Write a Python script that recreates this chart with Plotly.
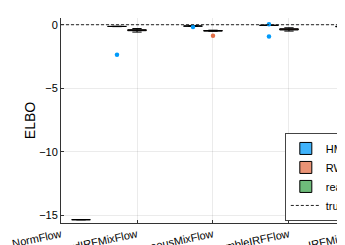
import plotly.graph_objects as go

categories = ["NormFlow", "BackwardIRFMixFlow", "HomogeneousMixFlow",
              "EnsembleIRFFlow", "IRFMixFlow"]

# HMC samples per category (NormFlow has none)
hmc_backward = [-0.12, -0.13, -0.13, -0.14, -0.14, -0.15, -0.13, -0.12, -0.14, -2.37]
hmc_homogeneous = [-0.08, -0.10, -0.11, -0.12, -0.10, -0.09, -0.11, -0.10, -0.17]
hmc_ensemble = [-0.03, -0.05, -0.06, -0.04, -0.05, -0.04, -0.06, 0.03, -0.92]
hmc_irfmix = [-0.12, -0.13, -0.14, -0.13, -0.12, -0.14, -0.13, -0.23, -2.34]

# RWMH samples per category
rwmh_backward = [-0.30, -0.38, -0.40, -0.43, -0.44, -0.46, -0.48, -0.58]
rwmh_homogeneous = [-0.43, -0.45, -0.46, -0.47, -0.48, -0.49, -0.51, -0.87]
rwmh_ensemble = [-0.24, -0.31, -0.33, -0.36, -0.39, -0.42, -0.50]
rwmh_irfmix = [-0.32, -0.40, -0.42, -0.44, -0.46, -0.48, -0.56]

# real_data samples (NormFlow only)
real_normflow = [-15.35, -15.35, -15.35, -15.35]

true_values = [0, 0, 0, 0, 0]

yticks = [0, -5, -10, -15]
ytick_labels = ["0", "−5", "−10", "−15"]


def expand(cat_lists):
    xs, ys = [], []
    for cat, vals in cat_lists:
        xs += [cat] * len(vals)
        ys += vals
    return xs, ys


hmc_x, hmc_y = expand([(categories[1], hmc_backward), (categories[2], hmc_homogeneous),
                       (categories[3], hmc_ensemble), (categories[4], hmc_irfmix)])
rwmh_x, rwmh_y = expand([(categories[1], rwmh_backward), (categories[2], rwmh_homogeneous),
                         (categories[3], rwmh_ensemble), (categories[4], rwmh_irfmix)])
real_x, real_y = expand([(categories[0], real_normflow)])

series = [
    ("HMC", hmc_x, hmc_y, "#009AFA", "rgba(0,154,250,0.75)"),
    ("RWMH", rwmh_x, rwmh_y, "#E36F47", "rgba(227,111,71,0.75)"),
    ("real_data", real_x, real_y, "#3EA44E", "rgba(62,164,78,0.75)"),
]

fig = go.Figure()
for name, xs, ys, col, fill in series:
    fig.add_trace(go.Box(
        x=xs, y=ys, name=name,
        fillcolor=fill,
        line=dict(color="black", width=1),
        marker=dict(color=col, size=4.5, line=dict(width=0)),
        boxpoints="outliers",
        whiskerwidth=0.5,
    ))

fig.add_trace(go.Scatter(
    x=categories, y=true_values, name="true", mode="lines",
    line=dict(color="#222222", width=1, dash="3px,2px"),
))

axis_common = dict(
    showgrid=True, gridcolor="rgba(0,0,0,0.08)", gridwidth=1,
    showline=True, linecolor="#333333", linewidth=1,
    ticks="inside", ticklen=3, tickcolor="#333333",
    tickfont=dict(family="Liberation Sans, Arial, sans-serif", size=11, color="black"),
    zeroline=False, automargin=False,
)

# page body adds an 8px offset; figure is wider than the window so the
# right part (as in the reference) falls outside the visible area
fig.update_layout(
    width=400, height=237,
    margin=dict(l=53, r=0, t=10, b=22, autoexpand=False),
    paper_bgcolor="white", plot_bgcolor="white",
    boxmode="group", boxgap=0.21, boxgroupgap=0.07,
    font=dict(family="Liberation Sans, Arial, sans-serif", color="black"),
    xaxis=dict(type="category", categoryorder="array", categoryarray=categories,
               range=[0, 4.566], tickangle=-12, **axis_common),
    yaxis=dict(range=[-15.61, 0.53], tickvals=yticks, ticktext=ytick_labels,
               title=dict(text="ELBO", font=dict(size=14), standoff=0),
               **axis_common),
    legend=dict(x=0.645, y=0.01, xanchor="left", yanchor="bottom",
                bgcolor="white", bordercolor="#444444", borderwidth=1,
                font=dict(size=11), tracegroupgap=0, itemwidth=30),
    showlegend=True,
)

fig.write_html("out.html")
